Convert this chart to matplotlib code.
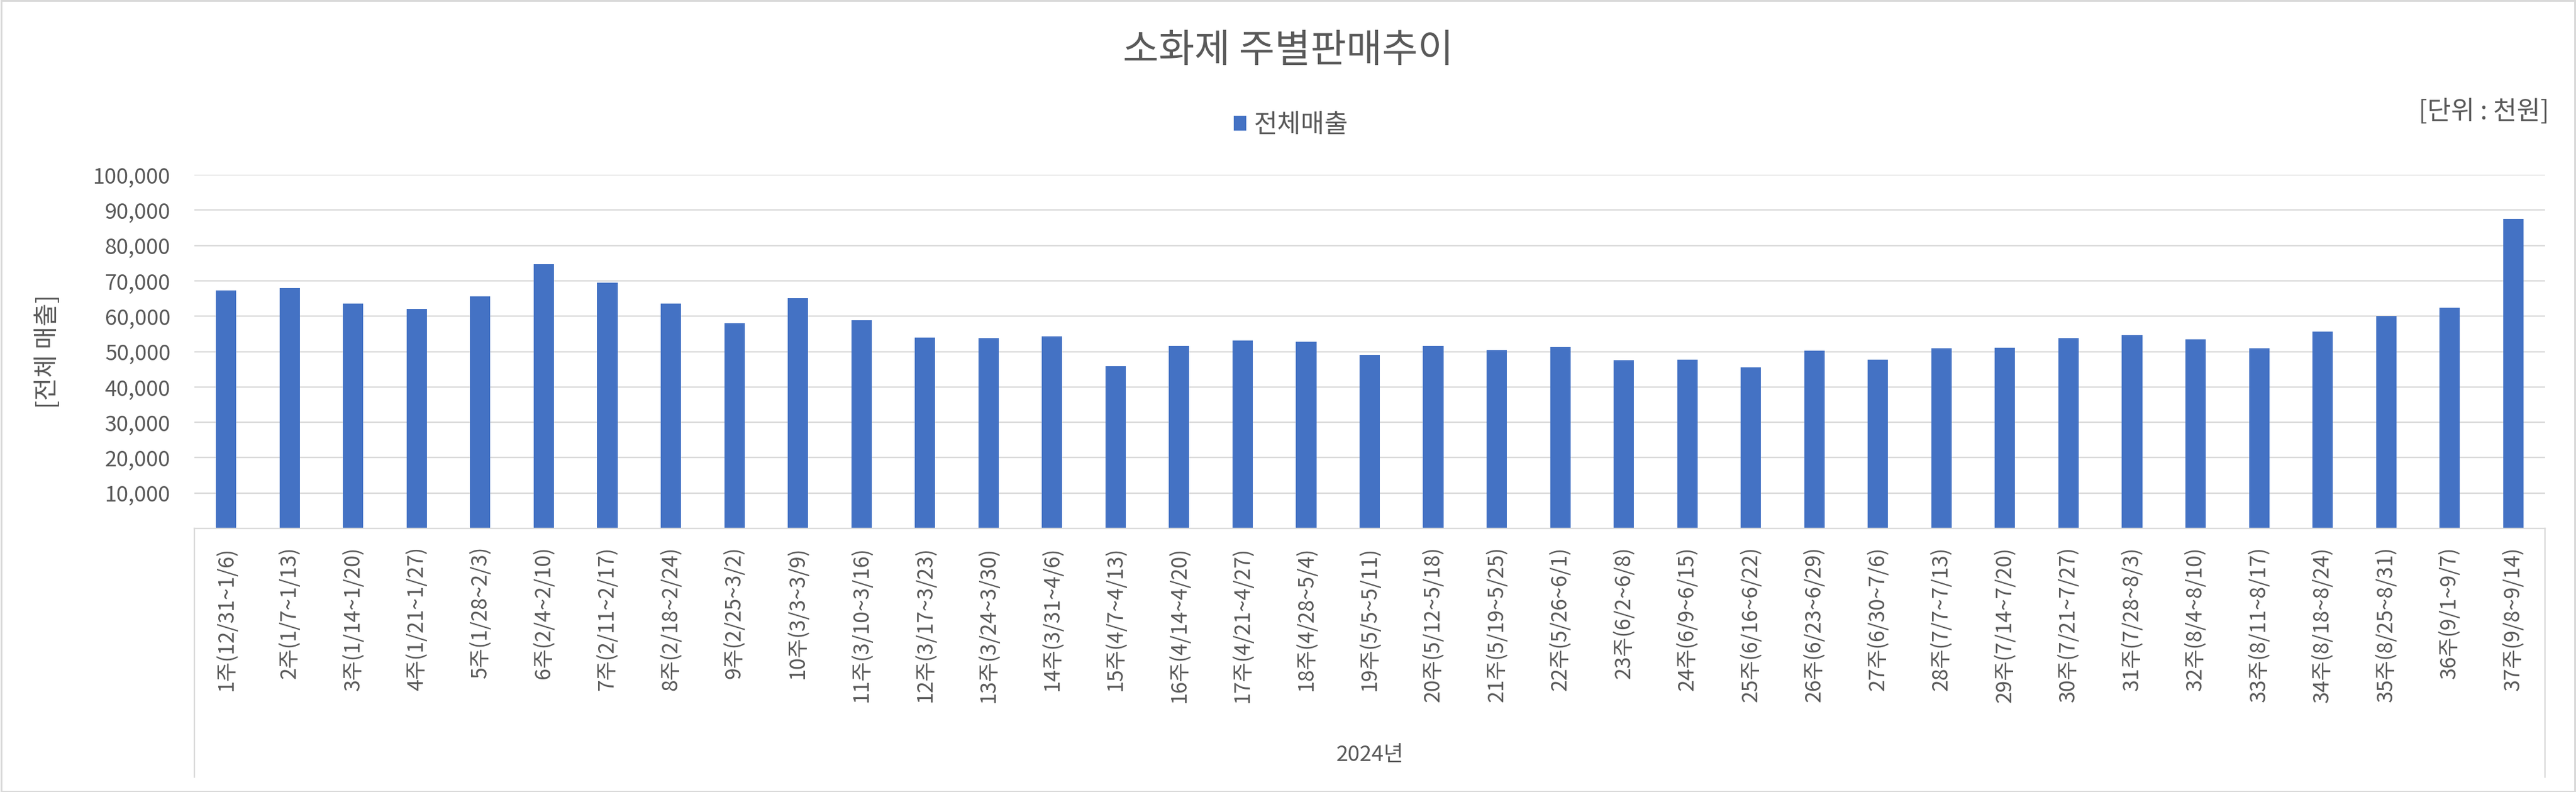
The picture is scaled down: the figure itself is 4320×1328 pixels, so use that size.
from matplotlib import pyplot as plt
from matplotlib.patches import Rectangle
from matplotlib.ticker import FuncFormatter
import numpy as np

plt.rcParams['font.family'] = ['Noto Sans CJK KR', 'DejaVu Sans']

weeks = ["1주(12/31~1/6)", "2주(1/7~1/13)", "3주(1/14~1/20)", "4주(1/21~1/27)", "5주(1/28~2/3)",
         "6주(2/4~2/10)", "7주(2/11~2/17)", "8주(2/18~2/24)", "9주(2/25~3/2)", "10주(3/3~3/9)",
         "11주(3/10~3/16)", "12주(3/17~3/23)", "13주(3/24~3/30)", "14주(3/31~4/6)", "15주(4/7~4/13)",
         "16주(4/14~4/20)", "17주(4/21~4/27)", "18주(4/28~5/4)", "19주(5/5~5/11)", "20주(5/12~5/18)",
         "21주(5/19~5/25)", "22주(5/26~6/1)", "23주(6/2~6/8)", "24주(6/9~6/15)", "25주(6/16~6/22)",
         "26주(6/23~6/29)", "27주(6/30~7/6)", "28주(7/7~7/13)", "29주(7/14~7/20)", "30주(7/21~7/27)",
         "31주(7/28~8/3)", "32주(8/4~8/10)", "33주(8/11~8/17)", "34주(8/18~8/24)", "35주(8/25~8/31)",
         "36주(9/1~9/7)", "37주(9/8~9/14)"]
sales = [67340, 67900, 63520, 62000, 65540, 74650, 69420, 63520, 57950, 65030,
         58790, 53900, 53730, 54230, 45790, 51530, 53160, 52710, 49000, 51530,
         50350, 51200, 47480, 47650, 45460, 50180, 47650, 50860, 51030, 53730,
         54570, 53390, 50860, 55580, 59970, 62330, 87500]
yticks = [10000, 20000, 30000, 40000, 50000, 60000, 70000, 80000, 90000, 100000]

W, H = 4320, 1328
TXT = '#595959'
GRID = '#d9d9d9'
BLUE = '#4472C4'

fig = plt.figure(figsize=(W / 100, H / 100), dpi=100)
fig.patches.append(Rectangle((0.0005, 0.001), 0.999, 0.998, transform=fig.transFigure,
                             fill=False, edgecolor=GRID, linewidth=2.2))

x0, x1, y0, y1 = 326, 4268, 293, 886
ax = fig.add_axes([x0 / W, 1 - y1 / H, (x1 - x0) / W, (y1 - y0) / H])

x = np.arange(len(weeks))
ax.bar(x, sales, width=0.32, color=BLUE, label='전체매출', zorder=3)
ax.set_xlim(-0.5, len(weeks) - 0.5)
ax.set_ylim(0, 100000)

ax.set_yticks(yticks)
ax.yaxis.set_major_formatter(FuncFormatter(lambda v, p: f"{int(v):,}"))
ax.set_xticks(x)
ax.set_xticklabels(weeks, rotation=90, va='top', ha='center')
ax.tick_params(axis='y', length=0, pad=29, labelsize=26, labelcolor=TXT)
ax.tick_params(axis='x', length=0, pad=22, labelsize=25.5, labelcolor=TXT)
ax.grid(axis='y', color=GRID, linewidth=1.7, zorder=0)

for s in ['left', 'right', 'top']:
    ax.spines[s].set_visible(False)
ax.spines['bottom'].set_color(GRID)
ax.spines['bottom'].set_linewidth(1.7)
ax.spines['bottom'].set_zorder(4)

# multi-level category box
depth = (1303 - y1) / (y1 - y0)
for xx in [0, 1]:
    ax.plot([xx, xx], [0, -depth], transform=ax.transAxes, clip_on=False, color=GRID, linewidth=1.7)

fig.text((x0 + x1) / 2 / W, 1 - 1266 / H, '2024년', ha='center', va='center', fontsize=26, color=TXT)
ax.set_ylabel('[전체 매출]', fontsize=30, color=TXT)
ax.yaxis.set_label_coords((101 - x0) / (x1 - x0), 0.5)

fig.text(0.5, 1 - 86 / H, '소화제 주별판매추이', ha='center', va='center', fontsize=47, color=TXT)
fig.text(4275 / W, 1 - 188 / H, '[단위 : 천원]', ha='right', va='center', fontsize=31, color=TXT)
fig.legend(loc='center', bbox_to_anchor=(2165 / W, 1 - 210 / H), frameon=False, fontsize=31,
           handlelength=0.5, handleheight=0.5, handletextpad=0.3, labelcolor=TXT)

plt.savefig('out.png', dpi=100)
